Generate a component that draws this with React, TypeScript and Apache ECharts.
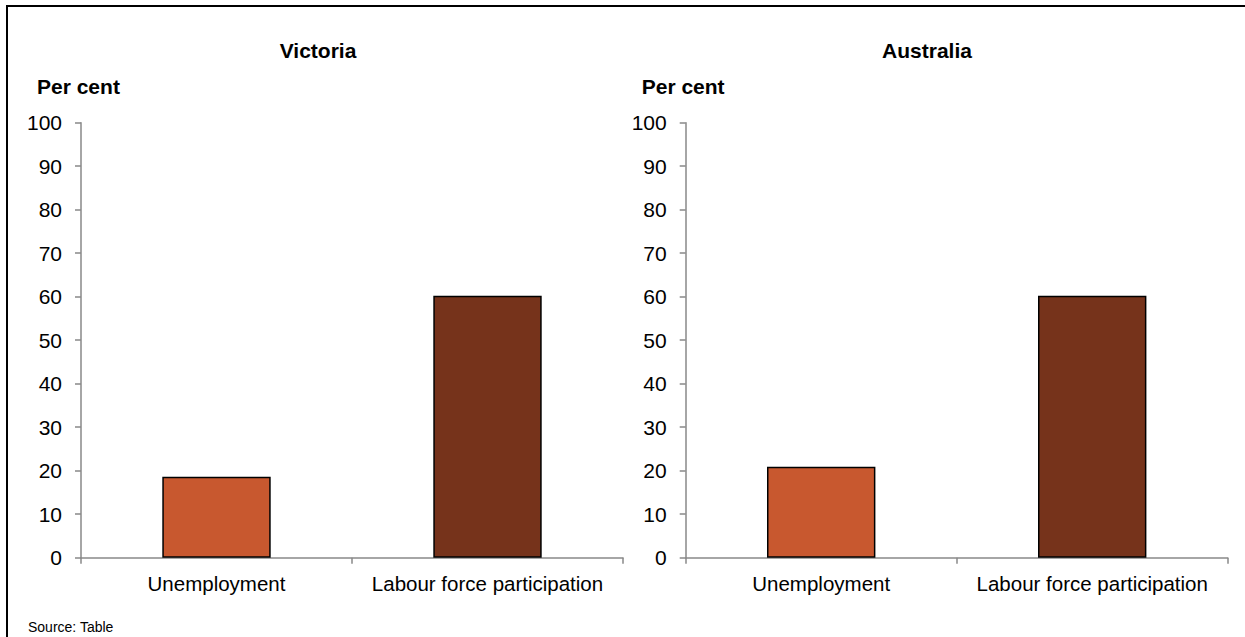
import React, { useEffect, useRef } from "react";
import * as echarts from "echarts";

const categories = ["Unemployment", "Labour force participation"];
const victoriaValues = [18.6, 60.2];
const australiaValues = [20.9, 60.2];
const barColors = ["#C8582F", "#76331B"];
const panelTitles = ["Victoria", "Australia"];
const yAxisName = "Per cent";
const sourceNote = "Source: Table";

const FONT = "'Liberation Sans', Arial, sans-serif";

export default function App() {
  const ref = useRef<HTMLDivElement>(null);

  useEffect(() => {
    document.body.style.margin = "0";
    if (!ref.current) return;
    const chart = echarts.init(ref.current, null, { renderer: "svg" });

    const makeX = (gridIndex: number) => ({
      type: "category" as const,
      gridIndex,
      data: categories,
      boundaryGap: true,
      axisLine: { lineStyle: { color: "#898989", width: 1.5 } },
      axisTick: { show: true, length: 6, interval: 0, lineStyle: { color: "#898989", width: 1.5 } },
      axisLabel: { color: "#000", fontSize: 20.5, fontFamily: FONT, margin: 15, interval: 0 },
    });
    const makeY = (gridIndex: number) => ({
      type: "value" as const,
      gridIndex,
      min: 0,
      max: 100,
      interval: 10,
      axisLine: { show: true, lineStyle: { color: "#898989", width: 1.5 } },
      axisTick: { show: true, length: 6, lineStyle: { color: "#898989", width: 1.5 } },
      axisLabel: { color: "#000", fontSize: 21, fontFamily: FONT, margin: 19 },
      splitLine: { show: false },
    });
    const makeData = (vals: number[]) =>
      vals.map((v, i) => ({
        value: v,
        itemStyle: { color: barColors[i], borderColor: "#000", borderWidth: 1.5 },
      }));

    chart.setOption({
      animation: false,
      grid: [
        { left: 81, right: 622, top: 122.7, bottom: 79.3, containLabel: false },
        { left: 685.7, right: 17.3, top: 122.7, bottom: 79.3, containLabel: false },
      ],
      xAxis: [makeX(0), makeX(1)],
      yAxis: [makeY(0), makeY(1)],
      series: [
        { type: "bar", xAxisIndex: 0, yAxisIndex: 0, barWidth: "40%", data: makeData(victoriaValues) },
        { type: "bar", xAxisIndex: 1, yAxisIndex: 1, barWidth: "40%", data: makeData(australiaValues) },
      ],
      graphic: [
        {
          type: "rect",
          shape: { x: 7, y: 6, width: 1400, height: 800 },
          style: { fill: "none", stroke: "#000", lineWidth: 2 },
          silent: true,
        },
        {
          type: "text",
          x: 318,
          y: 40,
          style: { text: panelTitles[0], fontSize: 21, fontWeight: "bold", fontFamily: FONT, fill: "#000", textAlign: "center" },
        },
        {
          type: "text",
          x: 927,
          y: 40,
          style: { text: panelTitles[1], fontSize: 21, fontWeight: "bold", fontFamily: FONT, fill: "#000", textAlign: "center" },
        },
        {
          type: "text",
          x: 37,
          y: 76,
          style: { text: yAxisName, fontSize: 21, fontWeight: "bold", fontFamily: FONT, fill: "#000" },
        },
        {
          type: "text",
          x: 641.7,
          y: 76,
          style: { text: yAxisName, fontSize: 21, fontWeight: "bold", fontFamily: FONT, fill: "#000" },
        },
        {
          type: "text",
          x: 28,
          y: 620,
          style: { text: sourceNote, fontSize: 14, fontFamily: FONT, fill: "#000" },
        },
      ],
    });

    return () => chart.dispose();
  }, []);

  return <div ref={ref} style={{ width: 1245, height: 637 }} />;
}
